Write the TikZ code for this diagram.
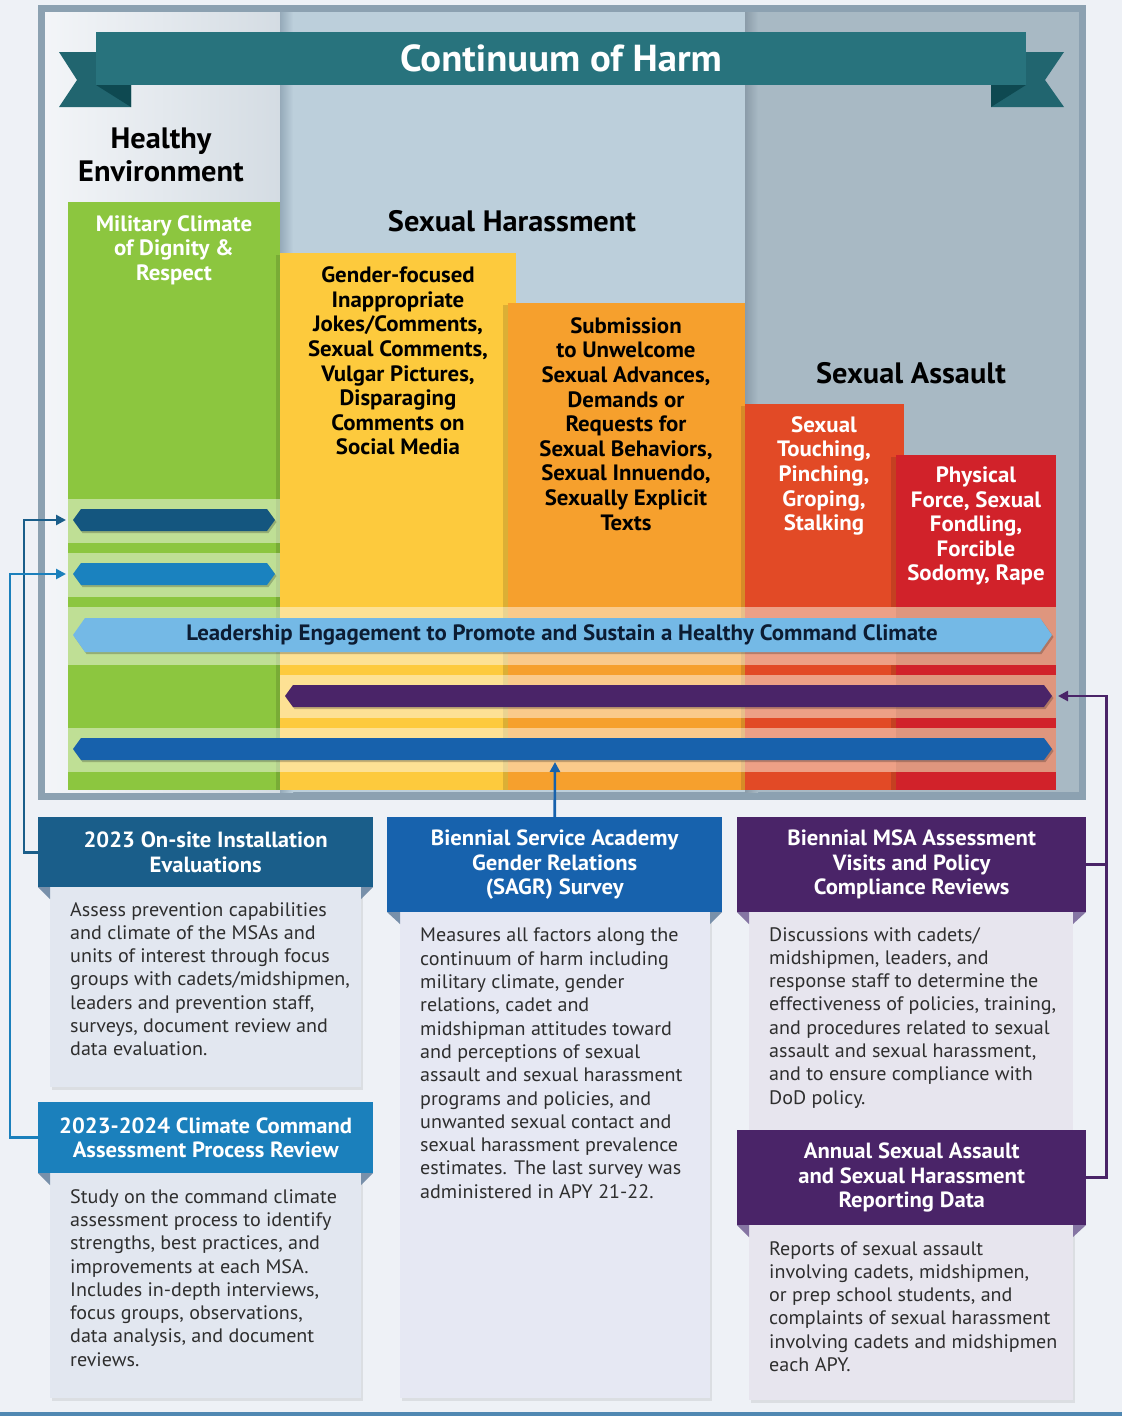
\documentclass[tikz,border=0pt]{standalone}
\usepackage{fontspec}
\setmainfont{PT Sans}[FakeStretch=1.03]
\usetikzlibrary{arrows.meta}

\definecolor{pagebg}{HTML}{EEF1F6}
\definecolor{framec}{HTML}{8CA1B1}
\definecolor{colone}{HTML}{D4DCE3}
\definecolor{colonel}{HTML}{F3F5F8}
\definecolor{coltwo}{HTML}{BCCFDB}
\definecolor{colthree}{HTML}{A8B9C4}
\definecolor{banner}{HTML}{28737D}
\definecolor{bannertail}{HTML}{21656F}
\definecolor{bannerfold}{HTML}{0E4951}
\definecolor{cgreen}{HTML}{8CC63F}
\definecolor{cyellow}{HTML}{FDCA3D}
\definecolor{corange}{HTML}{F6A02D}
\definecolor{credor}{HTML}{E24A26}
\definecolor{cred}{HTML}{D1222A}
\definecolor{redband}{HTML}{EDA086}
\definecolor{barA}{HTML}{14567F}
\definecolor{barB}{HTML}{1A82BF}
\definecolor{barL}{HTML}{74B9E6}
\definecolor{barP}{HTML}{4A2468}
\definecolor{barBl}{HTML}{1761AC}
\definecolor{hdrA}{HTML}{1A5E8A}
\definecolor{hdrB}{HTML}{1B80BC}
\definecolor{hdrC}{HTML}{1762AD}
\definecolor{hdrP}{HTML}{4A2468}
\definecolor{bodyA}{HTML}{E2E7F0}
\definecolor{bodyC}{HTML}{E6E8F3}
\definecolor{bodyP}{HTML}{E7E5EE}
\definecolor{foldA}{HTML}{7890AA}
\definecolor{foldP}{HTML}{8575A3}
\definecolor{bodytext}{HTML}{2E2E2E}
\definecolor{leadtext}{HTML}{0C1C33}
\definecolor{bottomline}{HTML}{5088B2}

\newcommand\hexbar[7]{%
  \fill[black,opacity=.22] ({#2+1.5},{#4+2}) -- ({#2+#6+1.5},{#4-#5+2}) -- ({#3-#6+1.5},{#4-#5+2}) -- ({#3+1.5},{#4+2}) -- ({#3-#6+1.5},{#4+#5+2}) -- ({#2+#6+1.5},{#4+#5+2}) -- cycle;
  \fill[#7] (#2,#4) -- ({#2+#6},{#4-#5}) -- ({#3-#6},{#4-#5}) -- (#3,#4) -- ({#3-#6},{#4+#5}) -- ({#2+#6},{#4+#5}) -- cycle;
  \coordinate (#1L) at (#2,#4);
  \coordinate (#1R) at (#3,#4);
}

\tikzset{
  coltitle/.style={font=\bfseries\fontsize{29.5}{33}\selectfont, text=black, align=center, inner sep=0},
  coltext/.style={font=\bfseries\fontsize{22.2}{24.6}\selectfont, align=center, inner sep=0},
  hdr/.style={font=\bfseries\fontsize{22}{24.5}\selectfont, text=white, align=center, inner sep=0, anchor=north west},
  bodytxt/.style={font=\fontsize{19.5}{23.3}\selectfont, text=bodytext, align=left, inner sep=0, anchor=north west},
  conn/.style={line width=2.6, -{Triangle[length=10pt,width=10pt]}},
  colshadow/.style={fill=black, opacity=.13},
  band/.style={fill=white, opacity=.45},
}

\begin{document}
\begin{tikzpicture}[x=1pt,y=-1pt]
\useasboundingbox (0,0) rectangle (1122,1416);
\fill[pagebg] (0,0) rectangle (1122,1416);
\fill[bottomline] (0,1412) rectangle (1122,1416);

% frame and column backgrounds
\fill[framec] (38,5) rectangle (1086,800);
\shade[left color=colonel, right color=colone] (45,12) rectangle (280,792);
\fill[coltwo] (280,12) rectangle (745,792);
\fill[colthree] (745,12) rectangle (1079,792);
\shade[left color=framec!80!coltwo, right color=coltwo] (280,12) rectangle (293,792);
\shade[left color=framec!90!black!90, right color=colthree] (745,12) rectangle (758,792);

% banner
\fill[bannertail] (59,52) -- (131,52) -- (131,107) -- (59,107) -- (77,80) -- cycle;
\fill[bannerfold] (96,85) -- (131,85) -- (131,107) -- cycle;
\fill[bannertail] (1064,52) -- (991,52) -- (991,107) -- (1064,107) -- (1045,80) -- cycle;
\fill[bannerfold] (1026,85) -- (991,85) -- (991,107) -- cycle;
\fill[banner] (96,32) rectangle (1026,85);
\node[font=\bfseries\fontsize{37.6}{40}\selectfont, text=white, inner sep=0] (title) at (561,58) {Continuum of Harm};

% column titles
\node[coltitle] (healthy) at (161,155) {Healthy\\Environment};
\node[coltitle] (harass) at (512,221) {Sexual Harassment};
\node[coltitle] (assault) at (911,373) {Sexual Assault};

% coloured columns
\fill[cgreen] (68,202) rectangle (280,790);
\fill[colshadow] (276,255) rectangle (282,790);
\fill[cyellow] (280,253) rectangle (516,790);
\fill[colshadow] (503,305) rectangle (510,790);
\fill[corange] (508,303) rectangle (745,790);
\fill[colshadow] (741,406) rectangle (747,790);
\fill[credor] (745,404) rectangle (904,790);
\fill[colshadow] (891,457) rectangle (898,790);
\fill[cred] (896,455) rectangle (1056,790);

\node[coltext, text=white] (green) at (174,250) {Military Climate\\of Dignity \&\\Respect};
\node[coltext, text=black] (yellow) at (398,361) {Gender-focused\\Inappropriate\\Jokes/Comments,\\Sexual Comments,\\Vulgar Pictures,\\Disparaging\\Comments on\\Social Media};
\node[coltext, text=black] (orange) at (626,424) {Submission\\to Unwelcome\\Sexual Advances,\\Demands or\\Requests for\\Sexual Behaviors,\\Sexual Innuendo,\\Sexually Explicit\\Texts};
\node[coltext, text=white] (redor) at (824,476) {Sexual\\Touching,\\Pinching,\\Groping,\\Stalking};
\node[coltext, text=white] (red) at (976,526) {Physical\\Force, Sexual\\Fondling,\\Forcible\\Sodomy, Rape};

% light bands
\fill[band] (68,499) rectangle (280,543);
\fill[band] (68,553) rectangle (280,597);
\fill[band] (68,607) rectangle (745,665);
\fill[band] (280,675) rectangle (745,718);
\fill[band] (68,728) rectangle (745,772);
\fill[redband] (745,607) rectangle (1056,665);
\fill[redband] (745,675) rectangle (1056,718);
\fill[redband] (745,728) rectangle (1056,772);
\fill[black,opacity=.06] (896,607) rectangle (1056,665);
\fill[black,opacity=.06] (896,675) rectangle (1056,718);
\fill[black,opacity=.06] (896,728) rectangle (1056,772);

% bars
\hexbar{a}{73}{275}{520}{11}{8}{barA}
\hexbar{b}{73}{275}{574}{11}{8}{barB}
\hexbar{l}{73}{1052}{635}{17}{12}{barL}
\hexbar{p}{285}{1052}{696}{11}{8}{barP}
\hexbar{u}{73}{1052}{749}{11}{8}{barBl}
\node[font=\bfseries\fontsize{22.2}{24}\selectfont, text=leadtext, inner sep=0] (lead) at (562,635) {Leadership Engagement to Promote and Sustain a Healthy Command Climate};

\coordinate (aTip) at (66,520);
\coordinate (bTip) at (66,574);
\coordinate (pTip) at (1058,696);
\coordinate (uTip) at (555,762);

% bottom boxes: bodies
\fill[black,opacity=.08] (52,890) rectangle (363,1090);
\fill[bodyA] (50,887) rectangle (361,1087);
\fill[black,opacity=.08] (52,1176) rectangle (363,1401);
\fill[bodyA] (50,1173) rectangle (361,1398);
\fill[black,opacity=.08] (402,915) rectangle (712,1401);
\fill[bodyC] (400,912) rectangle (710,1398);
\fill[bodyP] (749,912) rectangle (1073,1132);
\fill[black,opacity=.08] (751,1228) rectangle (1075,1403);
\fill[bodyP] (749,1225) rectangle (1073,1400);

% folds
\fill[foldA] (38,887) -- (50,887) -- (50,899) -- cycle;
\fill[foldA] (373,887) -- (361,887) -- (361,899) -- cycle;
\fill[foldA] (38,1173) -- (50,1173) -- (50,1185) -- cycle;
\fill[foldA] (373,1173) -- (361,1173) -- (361,1185) -- cycle;
\fill[foldA] (387,912) -- (400,912) -- (400,924) -- cycle;
\fill[foldA] (722,912) -- (710,912) -- (710,924) -- cycle;
\fill[foldP] (737,912) -- (749,912) -- (749,924) -- cycle;
\fill[foldP] (1086,912) -- (1073,912) -- (1073,924) -- cycle;
\fill[foldP] (737,1225) -- (749,1225) -- (749,1237) -- cycle;
\fill[foldP] (1086,1225) -- (1073,1225) -- (1073,1237) -- cycle;

% headers
\node[hdr, fill=hdrA, minimum width=335, minimum height=70] (h1) at (38,817) {2023 On-site Installation\\Evaluations};
\node[hdr, fill=hdrB, minimum width=335, minimum height=71] (h4) at (38,1102) {2023-2024 Climate Command\\Assessment Process Review};
\node[hdr, fill=hdrC, minimum width=335, minimum height=95] (h2) at (387,817) {Biennial Service Academy\\Gender Relations\\(SAGR) Survey};
\node[hdr, fill=hdrP, minimum width=349, minimum height=95] (h3) at (737,817) {Biennial MSA Assessment\\Visits and Policy\\Compliance Reviews};
\node[hdr, fill=hdrP, minimum width=349, minimum height=95] (h5) at (737,1130) {Annual Sexual Assault\\and Sexual Harassment\\Reporting Data};

% body texts
\node[bodytxt] (t1) at (70,902) {Assess prevention capabilities\\and climate of the MSAs and\\units of interest through focus\\groups with cadets/midshipmen,\\leaders and prevention staff,\\surveys, document review and\\data evaluation.};
\node[bodytxt] (t4) at (70,1189) {Study on the command climate\\assessment process to identify\\strengths, best practices, and\\improvements at each MSA.\\Includes in-depth interviews,\\focus groups, observations,\\data analysis, and document\\reviews.};
\node[bodytxt] (t2) at (420,928) {Measures all factors along the\\continuum of harm including\\military climate, gender\\relations, cadet and\\midshipman attitudes toward\\and perceptions of sexual\\assault and sexual harassment\\programs and policies, and\\unwanted sexual contact and\\sexual harassment prevalence\\estimates. The last survey was\\administered in APY 21-22.};
\node[bodytxt] (t3) at (769,927) {Discussions with cadets/\\midshipmen, leaders, and\\response staff to determine the\\effectiveness of policies, training,\\and procedures related to sexual\\assault and sexual harassment,\\and to ensure compliance with\\DoD policy.};
\node[bodytxt] (t5) at (769,1241) {Reports of sexual assault\\involving cadets, midshipmen,\\or prep school students, and\\complaints of sexual harassment\\involving cadets and midshipmen\\each APY.};

% connectors
\draw[conn, draw=hdrA] (h1.west) -- ++(-14,0) |- (aTip);
\draw[conn, draw=hdrB] (h4.west) -- ++(-28,0) |- (bTip);
\draw[conn, draw=hdrC] (h2.north) -- (uTip);
\draw[line width=2.6, draw=hdrP] (h3.east) -- ++(20,0);
\draw[conn, draw=hdrP] (h5.east) -- ++(20,0) |- (pTip);
\end{tikzpicture}
\end{document}
